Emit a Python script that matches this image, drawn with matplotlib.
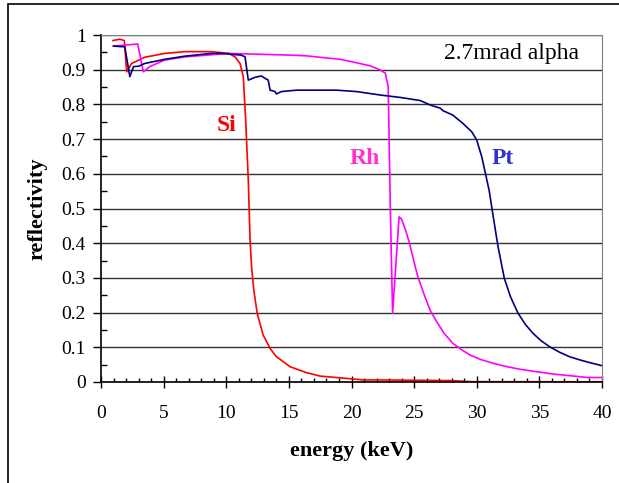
import numpy as np
import matplotlib
matplotlib.use('Agg')
import matplotlib.pyplot as plt
from matplotlib.patches import Rectangle
from matplotlib.ticker import MultipleLocator

plt.rcParams['font.family'] = ['Liberation Serif', 'DejaVu Serif']

# valores (energia keV, reflectividad)
si_e = [0.96, 1.5, 1.86, 2.05, 2.45, 3.5, 5.1, 6.7, 8.8, 10.2, 10.7, 11.1, 11.36, 11.55,
        11.76, 11.9, 12.03, 12.2, 12.47, 12.95, 13.5, 14.0, 15.1, 16.4, 17.5, 19.1,
        20.9, 22.3, 25.0, 28.0, 29.5, 40.0]
si_r = [0.984, 0.988, 0.984, 0.894, 0.918, 0.936, 0.947, 0.952, 0.952, 0.947, 0.937, 0.918,
        0.88, 0.755, 0.582, 0.41, 0.328, 0.265, 0.198, 0.135, 0.097, 0.073, 0.044, 0.027,
        0.017, 0.012, 0.006, 0.006, 0.005, 0.004, 0.001, 0.0005]

rh_e = [1.0, 2.93, 3.38, 3.9, 5.1, 6.7, 8.8, 10.2, 15.1, 16.4, 17.7, 19.1, 20.4, 21.5,
        22.3, 22.7, 22.93, 23.1, 23.28, 23.8, 24.0, 24.3, 24.6, 25.0, 25.3, 25.86, 26.3,
        26.8, 27.4, 28.1, 28.8, 29.45, 30.3, 31.3, 32.3, 33.4, 34.7, 36.1, 37.5, 38.8, 40.0]
rh_r = [0.968, 0.974, 0.894, 0.909, 0.928, 0.937, 0.943, 0.947, 0.942, 0.94, 0.935, 0.93,
        0.92, 0.911, 0.899, 0.89, 0.851, 0.5, 0.198, 0.476, 0.469, 0.44, 0.404, 0.345,
        0.303, 0.246, 0.205, 0.174, 0.14, 0.111, 0.093, 0.078, 0.065, 0.054, 0.045, 0.037,
        0.03, 0.023, 0.018, 0.013, 0.013]

pt_e = [1.0, 1.9, 2.3, 2.6, 3.0, 3.5, 5.1, 6.7, 8.8, 9.6, 11.2, 11.5, 11.76, 12.3, 12.8,
        13.1, 13.35, 13.5, 13.9, 14.0, 14.4, 15.6, 18.8, 20.4, 22.3, 23.9, 25.5, 26.3,
        27.1, 27.3, 28.1, 28.9, 29.6, 30.0, 30.4, 30.7, 31.0, 31.3, 31.7, 32.2, 32.7,
        33.3, 33.9, 34.5, 35.1, 35.8, 36.6, 37.4, 38.2, 39.0, 40.0]
pt_r = [0.968, 0.966, 0.88, 0.909, 0.91, 0.918, 0.93, 0.939, 0.947, 0.947, 0.942, 0.937,
        0.87, 0.878, 0.882, 0.875, 0.87, 0.841, 0.837, 0.83, 0.837, 0.841, 0.841, 0.837,
        0.827, 0.82, 0.811, 0.798, 0.789, 0.782, 0.769, 0.745, 0.721, 0.697, 0.649, 0.6,
        0.55, 0.48, 0.39, 0.299, 0.245, 0.198, 0.165, 0.14, 0.12, 0.102, 0.086, 0.073,
        0.064, 0.056, 0.047]

fig = plt.figure(figsize=(6.19, 4.83), dpi=100)
ax = fig.add_axes([101/619, 1-382/483, 501/619, 347/483])

ax.plot(si_e, si_r, color='#ff0000', lw=1.2)
ax.plot(rh_e, rh_r, color='#ff00ff', lw=1.2)
ax.plot(pt_e, pt_r, color='#000080', lw=1.2)

ax.set_xlim(0, 40)
ax.set_ylim(0, 1)
ax.xaxis.set_major_locator(MultipleLocator(5))
ax.xaxis.set_minor_locator(MultipleLocator(1))
ax.yaxis.set_major_locator(MultipleLocator(0.1))
ax.yaxis.set_minor_locator(MultipleLocator(0.05))
ax.set_yticks(np.arange(0, 1.01, 0.1))
ax.set_yticklabels(['0', '0.1', '0.2', '0.3', '0.4', '0.5', '0.6', '0.7', '0.8', '0.9', '1'])
ax.grid(axis='y', which='major', color='#333333', lw=1)

ax.tick_params(axis='x', which='major', direction='inout', length=9, width=1, labelsize=14, pad=12)
ax.tick_params(axis='x', which='minor', direction='in', length=3, width=1)
ax.tick_params(axis='y', which='major', direction='out', length=6, width=1, labelsize=14, pad=5)
ax.tick_params(axis='y', which='minor', direction='in', length=4, width=1)

for s in ['top', 'right']:
    ax.spines[s].set_color('#808080')
for s in ['left', 'bottom']:
    ax.spines[s].set_color('black')
    ax.spines[s].set_linewidth(1.2)

ax.set_xlabel('energy (keV)', fontsize=16, fontweight='bold', labelpad=14)
ax.set_ylabel('reflectivity', fontsize=16, fontweight='bold', labelpad=10)

ax.text(10.0, 0.738, 'Si', color='#ff0000', fontsize=17, fontweight='bold', ha='center', va='center')
ax.text(21.1, 0.645, 'Rh', color='#ff33cc', fontsize=17, fontweight='bold', ha='center', va='center')
ax.text(32.05, 0.645, 'Pt', color='#3333cc', fontsize=17, fontweight='bold', ha='center', va='center')
ax.text(32.8, 0.947, '2.7mrad alpha', color='black', fontsize=17, ha='center', va='center')

# marco exterior
fig.patches.append(Rectangle((8/619, -0.1), 1.2, 1.1 - 4/483, transform=fig.transFigure,
                             fill=False, edgecolor='black', lw=1.2, clip_on=False))

fig.savefig('out.png', dpi=100)
